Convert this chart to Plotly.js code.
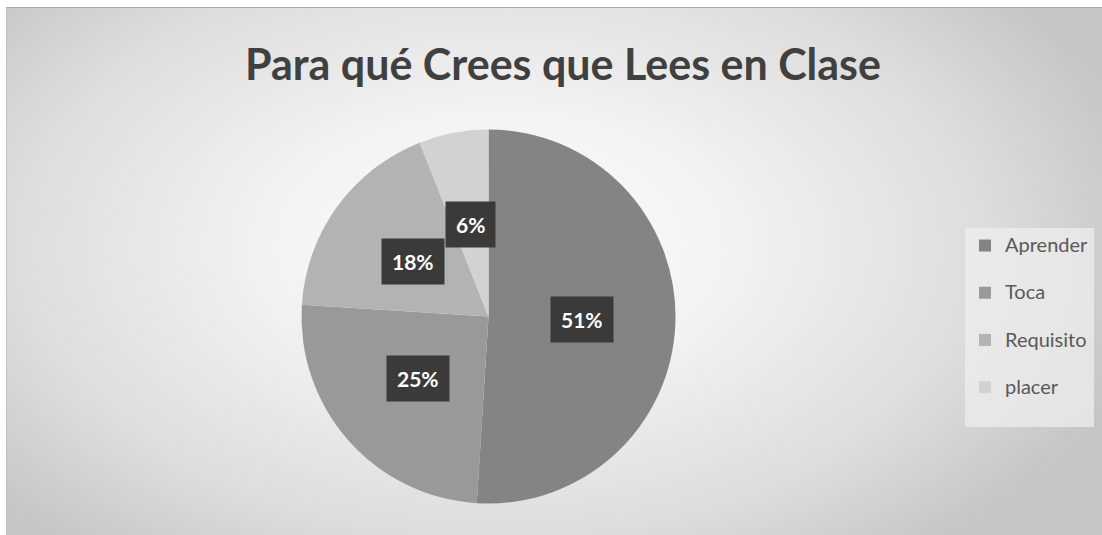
<!DOCTYPE html>
<html>
<head>
<meta charset="utf-8">
<script src="https://cdn.plot.ly/plotly-3.0.1.min.js"></script>
<style>
  html, body { margin: 0; padding: 0; background: #ffffff; width: 1102px; height: 535px; overflow: hidden; }
  #bg {
    position: absolute; left: 6px; top: 7px; width: 1096px; height: 528px;
    border-top: 1px solid #a8a8a8; border-left: 1px solid #c0c0c0; box-sizing: border-box;
    background: radial-gradient(ellipse 60% 75% at 45% 45%, #ffffff 0%, #f2f2f2 35%, #dcdcdc 75%, #c6c6c6 100%);
  }
  #chart { position: absolute; left: 0; top: 0; width: 1102px; height: 535px; }
</style>
</head>
<body>
<div id="bg"></div>
<div id="chart"></div>
<script>
const categories = ['Aprender', 'Toca', 'Requisito', 'placer'];
const values = [51, 25, 18, 6];
const pctLabels = ['51%', '25%', '18%', '6%'];
const sliceColors = ['#848484', '#999999', '#b3b3b3', '#d2d2d2'];

const W = 1102, H = 535;
const cx = 488.5, cyTop = 316.5, R = 187;
const cyBottom = H - cyTop;

// label annotations at mid-angle of each slice (clockwise from 12 o'clock)
const total = values.reduce((a, b) => a + b, 0);
let cum = 0;
const annotations = values.map((v, i) => {
  const mid = (cum + v / 2) / total * 2 * Math.PI;
  cum += v;
  const r = 0.5 * R;
  return {
    xref: 'paper', yref: 'paper',
    x: (cx + r * Math.sin(mid)) / W,
    y: (cyBottom + r * Math.cos(mid)) / H,
    text: pctLabels[i],
    showarrow: false,
    font: { family: 'Lato, sans-serif', size: 21, color: '#ffffff', weight: 'bold' },
    bgcolor: '#3a3a3a',
    borderpad: 10,
    xanchor: 'center', yanchor: 'middle'
  };
});

const trace = {
  type: 'pie',
  labels: categories.map(c => "<span style='font-size:20px'>" + c + "</span><br>&nbsp;"),
  values: values,
  sort: false,
  direction: 'clockwise',
  rotation: 0,
  textinfo: 'none',
  hoverinfo: 'label+percent',
  marker: { colors: sliceColors, line: { width: 0 } },
  domain: {
    x: [(cx - R) / W, (cx + R) / W],
    y: [(cyBottom - R) / H, (cyBottom + R) / H]
  }
};

const layout = {
  width: W, height: H,
  margin: { l: 0, r: 0, t: 0, b: 0 },
  paper_bgcolor: 'rgba(0,0,0,0)',
  plot_bgcolor: 'rgba(0,0,0,0)',
  font: { family: 'Lato, sans-serif', color: '#595959' },
  title: {
    text: 'Para qué Crees que Lees en Clase',
    font: { family: 'Lato, sans-serif', size: 43, color: '#404040', weight: 'bold' },
    x: 563 / W, xanchor: 'center', xref: 'container',
    y: 1 - 65 / H, yanchor: 'middle', yref: 'container'
  },
  showlegend: true,
  legend: {
    x: 965 / W, xanchor: 'left',
    y: 1 - 228 / H, yanchor: 'top',
    bgcolor: 'rgba(238,238,238,0.75)',
    font: { family: 'Lato, sans-serif', size: 17, color: '#595959' },
    valign: 'top',
    traceorder: 'normal'
  },
  annotations: annotations
};

Plotly.newPlot('chart', [trace], layout, { displayModeBar: false, staticPlot: true });
</script>
</body>
</html>
